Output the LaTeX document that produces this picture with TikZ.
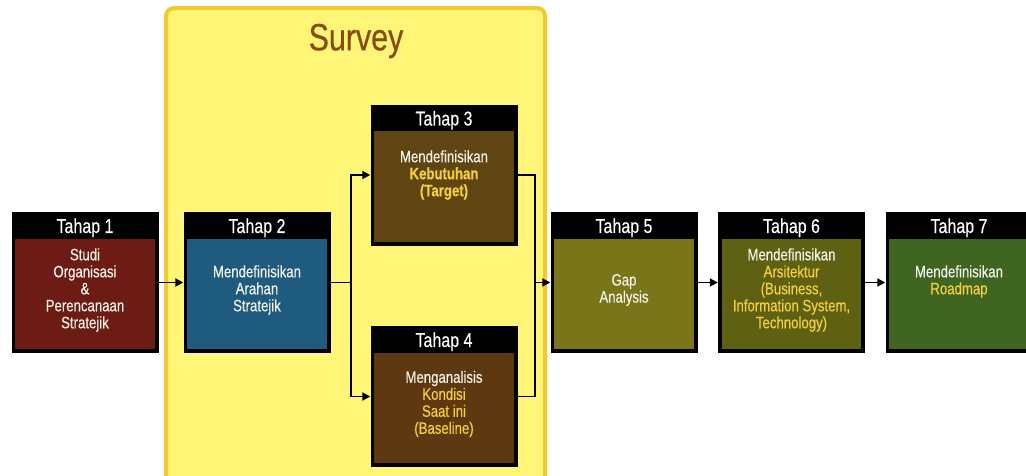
\documentclass[tikz,border=0pt]{standalone}
\usepackage{fontspec}
\setmainfont[FakeStretch=0.8,FakeBold=0.4]{Liberation Sans}
\usetikzlibrary{arrows.meta}
\definecolor{survfill}{HTML}{FFF576}
\definecolor{survline}{HTML}{F0CB2E}
\definecolor{survtext}{HTML}{8B4A14}
\definecolor{cA}{HTML}{6C1C12}
\definecolor{cB}{HTML}{1F5B7E}
\definecolor{cC}{HTML}{5F4511}
\definecolor{cD}{HTML}{5E3811}
\definecolor{cE}{HTML}{7B7519}
\definecolor{cF}{HTML}{5F6112}
\definecolor{cG}{HTML}{3F6521}
\definecolor{hl}{HTML}{F4D03C}
\definecolor{txt}{HTML}{F2F2EA}
\tikzset{
  stagebox/.style={fill=black,draw=none,minimum width=147pt,minimum height=141pt,inner sep=0pt},
  hdr/.style={text=white,font=\fontsize{20}{22}\selectfont,inner sep=0pt},
  body/.style={text=txt,font=\fontsize{16.5}{17}\selectfont,align=center,inner sep=0pt},
  conn/.style={line width=1.8pt,-{Triangle[length=8pt,width=8pt]}},
  plain/.style={line width=1.8pt}
}
\newcommand{\hi}[1]{\textcolor{hl}{#1}}
\newcommand{\innerfill}[2]{\fill[#2] ([xshift=4pt,yshift=-27pt]#1.north west) rectangle ([xshift=-4pt,yshift=4pt]#1.south east);}
\begin{document}
\begin{tikzpicture}[x=1pt,y=-1pt]
\useasboundingbox (0,0) rectangle (1026,475);
\clip (0,0) rectangle (1026,475);
\fill[white] (0,0) rectangle (1026,475);
% survey panel
\draw[survline,fill=survfill,line width=4pt,rounded corners=8pt] (166,8) rectangle (545,495);
\node[text=survtext,font=\fontsize{38}{40}\selectfont,inner sep=0pt] (survey) at (356,41) {Survey};
% boxes
\node[stagebox] (t1) at (85,282.5) {};
\node[stagebox] (t2) at (257,282.5) {};
\node[stagebox] (t3) at (444,175) {};
\node[stagebox] (t4) at (444,396.5) {};
\node[stagebox] (t5) at (624,282.5) {};
\node[stagebox] (t6) at (791.5,282.5) {};
\node[stagebox] (t7) at (959,282.5) {};
\innerfill{t1}{cA}
\innerfill{t2}{cB}
\innerfill{t3}{cC}
\innerfill{t4}{cD}
\innerfill{t5}{cE}
\innerfill{t6}{cF}
\innerfill{t7}{cG}
\node[hdr] (h1) at ([yshift=-16pt]t1.north) {Tahap 1};
\node[hdr] (h2) at ([yshift=-16pt]t2.north) {Tahap 2};
\node[hdr] (h3) at ([yshift=-16pt]t3.north) {Tahap 3};
\node[hdr] (h4) at ([yshift=-16pt]t4.north) {Tahap 4};
\node[hdr] (h5) at ([yshift=-16pt]t5.north) {Tahap 5};
\node[hdr] (h6) at ([yshift=-16pt]t6.north) {Tahap 6};
\node[hdr] (h7) at ([yshift=-16pt]t7.north) {Tahap 7};
% body texts
\node[body] (b1) at (85,290) {Studi\\Organisasi\\\&\\Perencanaan\\Stratejik};
\node[body] (b2) at (257,290) {Mendefinisikan\\Arahan\\Stratejik};
\node[body] (b3) at (444,175) {Mendefinisikan\\\hi{\textbf{Kebutuhan}}\\\hi{\textbf{(Target)}}};
\node[body] (b4) at (444,404) {Menganalisis\\\hi{Kondisi}\\\hi{Saat ini}\\\hi{(Baseline)}};
\node[body] (b5) at (624,290) {Gap\\Analysis};
\node[body] (b6) at (791.5,290) {Mendefinisikan\\\hi{Arsitektur}\\\hi{(Business,}\\\hi{Information System,}\\\hi{Technology)}};
\node[body] (b7) at (959,281.5) {Mendefinisikan\\\hi{Roadmap}};
% connectors
\coordinate (split) at (351,282.5);
\coordinate (merge) at (535,282.5);
\draw[conn] (t1.east) -- (t2.west);
\draw[plain] (t2.east) -- (split);
\draw[conn] (split) |- (t3.west);
\draw[conn] (split) |- (t4.west);
\draw[plain] (t3.east) -| (merge);
\draw[plain] (t4.east) -| (merge);
\draw[conn] (merge) -- (t5.west);
\draw[conn] (t5.east) -- (t6.west);
\draw[conn] (t6.east) -- (t7.west);
\end{tikzpicture}
\end{document}
